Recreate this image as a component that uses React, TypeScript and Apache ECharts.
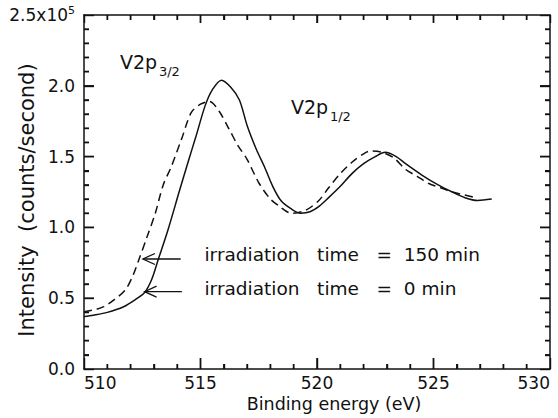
import React, { useEffect, useRef } from "react";
import * as echarts from "echarts";

// Binding energy (eV) and intensity (x10^5 counts/second)
const energy0 = [510.0, 510.4, 511.0, 511.7, 512.2, 512.6, 512.9, 513.2, 513.6, 514.1, 514.5, 514.8, 515.2, 515.5, 515.9, 516.3, 516.67, 517.0, 517.4, 517.74, 518.1, 518.45, 518.9, 519.3, 519.7, 520.1, 520.5, 521.0, 521.5, 522.0, 522.5, 522.93, 523.4, 523.8, 524.5, 525.2, 525.8, 526.35, 526.9, 527.5];
const intensity0 = [0.37, 0.38, 0.40, 0.44, 0.49, 0.54, 0.63, 0.78, 0.98, 1.26, 1.48, 1.64, 1.86, 1.97, 2.04, 1.99, 1.90, 1.72, 1.55, 1.43, 1.29, 1.19, 1.13, 1.10, 1.11, 1.15, 1.21, 1.29, 1.38, 1.45, 1.50, 1.53, 1.50, 1.45, 1.37, 1.30, 1.25, 1.21, 1.19, 1.20];

const energy150 = [510.0, 510.5, 510.85, 511.3, 511.78, 512.1, 512.35, 512.7, 513.06, 513.4, 513.75, 514.2, 514.6, 515.0, 515.38, 515.8, 516.24, 516.6, 517.0, 517.52, 518.0, 518.38, 518.9, 519.5, 520.08, 520.5, 521.0, 521.5, 522.0, 522.3, 522.8, 523.3, 523.8, 524.3, 524.8, 525.3, 525.8, 526.3, 526.8];
const intensity150 = [0.405, 0.42, 0.44, 0.49, 0.56, 0.66, 0.77, 0.93, 1.10, 1.30, 1.43, 1.63, 1.81, 1.87, 1.89, 1.82, 1.69, 1.58, 1.48, 1.31, 1.20, 1.15, 1.10, 1.12, 1.19, 1.28, 1.38, 1.46, 1.52, 1.54, 1.53, 1.49, 1.41, 1.36, 1.31, 1.28, 1.25, 1.23, 1.21];

const xMin = 510;
const xMax = 530;
const xInterval = 5;
const xMinorStep = 1;
const yMin = 0;
const yMax = 2.5;
const yInterval = 0.5;
const yMinorStep = 0.1;

const xTitle = "Binding energy (eV)";
const yTitle = "Intensity  (counts/second)";

// annotations (data coordinates)
const peakLabels = [
  { main: "V2p", sub: "3/2", at: [511.54, 2.1] },
  { main: "V2p", sub: "1/2", at: [518.88, 1.78] },
];
const legendNotes = [
  { text: "irradiation   time   =  150 min", at: [515.17, 0.74], tip: [512.53, 0.777], tailX: 514.15 },
  { text: "irradiation   time   =  0 min", at: [515.17, 0.50], tip: [512.6, 0.546], tailX: 514.2 },
];

const FONT = "DejaVu Sans";
const INK = "#111";

export default function App() {
  const ref = useRef<HTMLDivElement>(null);
  useEffect(() => {
    if (!ref.current) return;
    const chart = echarts.init(ref.current, null, { renderer: "svg" });
    const tickStyle = { color: INK, width: 1.4, opacity: 1 };
    const axisCommon = {
      axisLine: { show: true, onZero: false, lineStyle: { color: INK, width: 1.5 } },
      splitLine: { show: false },
    };
    const ticks = (major: number, minor: number) => ({
      axisTick: { show: true, inside: true, length: major, lineStyle: tickStyle },
      minorTick: { show: true, splitNumber: 5, length: minor, lineStyle: tickStyle },
    });
    const d0 = energy0.map((e, i) => [e, intensity0[i]]);
    const d1 = energy150.map((e, i) => [e, intensity150[i]]);

    // tick positions derived from the axis ranges: [x, y, kind(0=x,1=y), major]
    const isMult = (v: number, step: number) => Math.abs(Math.round(v / step) * step - v) < 1e-6;
    const tickData: number[][] = [];
    const nx = Math.round((xMax - xMin) / xMinorStep);
    for (let i = 1; i < nx; i++) {
      const v = xMin + i * xMinorStep;
      tickData.push([v, yMin, 0, isMult(v - xMin, xInterval) ? 1 : 0]);
    }
    const ny = Math.round((yMax - yMin) / yMinorStep);
    for (let i = 1; i < ny; i++) {
      const v = yMin + i * yMinorStep;
      tickData.push([xMin, v, 1, isMult(v - yMin, yInterval) ? 1 : 0]);
    }

    chart.setOption({
      animation: false,
      grid: { left: 84, right: 8, top: 15, bottom: 49, containLabel: false, outerBoundsMode: "none" },
      xAxis: [
        {
          type: "value", min: xMin, max: xMax, interval: xInterval, position: "bottom",
          ...axisCommon, ...ticks(11, 5),
          axisLabel: { fontSize: 17, color: INK, fontFamily: FONT, margin: 5, alignMinLabel: "left", alignMaxLabel: "right" },
          name: xTitle, nameLocation: "middle", nameGap: 26, nameMoveOverlap: false,
          nameTextStyle: { fontSize: 17.5, color: INK, fontFamily: FONT, padding: [0, 0, 0, 34] },
        },
        {
          type: "value", min: xMin, max: xMax, interval: xInterval, position: "top",
          ...axisCommon, ...ticks(8, 5),
          axisLabel: { show: false },
        },
      ],
      yAxis: [
        {
          type: "value", min: yMin, max: yMax, interval: yInterval, position: "left",
          ...axisCommon, ...ticks(10, 5),
          axisLabel: {
            fontSize: 17, color: INK, fontFamily: FONT, margin: 9,
            formatter: (v: number) => (Math.abs(v - yMax) < 1e-9 ? "{a|" + v.toFixed(1) + "x10}{s|5}" : v.toFixed(1)),
            rich: {
              a: { fontSize: 17, color: INK, fontFamily: FONT },
              s: { fontSize: 11, color: INK, fontFamily: FONT, padding: [0, 0, 9, 0] },
            },
          },
          name: yTitle, nameLocation: "middle", nameGap: 47, nameRotate: 90, nameMoveOverlap: false,
          nameTextStyle: { fontSize: 21, color: INK, fontFamily: FONT, padding: [0, 16, 0, 0] },
        },
        {
          type: "value", min: yMin, max: yMax, interval: yInterval, position: "right",
          ...axisCommon, ...ticks(10, 5),
          axisLabel: { show: false },
        },
      ],
      series: [
        {
          type: "line", name: "0 min", data: d0, smooth: 0.3, showSymbol: false,
          lineStyle: { color: INK, width: 1.5, type: "solid" },
        },
        {
          type: "line", name: "150 min", data: d1, smooth: 0.3, showSymbol: false,
          lineStyle: { color: INK, width: 1.5, type: [8, 5] },
        },
        {
          type: "custom", name: "ticks", data: tickData, clip: false, silent: true, z: 10,
          renderItem: (params: any, api: any) => {
            const kind = api.value(2);
            const major = api.value(3) === 1;
            const st = { stroke: INK, lineWidth: 1.5, fill: "none" };
            if (kind === 0) {
              const v = api.value(0);
              const b = api.coord([v, yMin]);
              const t = api.coord([v, yMax]);
              const lb = major ? 11 : 5;
              const lt = major ? 8 : 5;
              return {
                type: "group",
                children: [
                  { type: "line", shape: { x1: b[0], y1: b[1], x2: b[0], y2: b[1] - lb }, style: st },
                  { type: "line", shape: { x1: t[0], y1: t[1], x2: t[0], y2: t[1] + lt }, style: st },
                ],
              };
            }
            const v = api.value(1);
            const l = api.coord([xMin, v]);
            const r = api.coord([xMax, v]);
            const len = major ? 10 : 5;
            return {
              type: "group",
              children: [
                { type: "line", shape: { x1: l[0], y1: l[1], x2: l[0] + len, y2: l[1] }, style: st },
                { type: "line", shape: { x1: r[0], y1: r[1], x2: r[0] - len, y2: r[1] }, style: st },
              ],
            };
          },
        },
      ],
    });

    const px = (p: number[]) => chart.convertToPixel({ xAxisIndex: 0, yAxisIndex: 0 }, p) as number[];
    const graphics: any[] = [];
    peakLabels.forEach((l) => {
      const p = px(l.at);
      graphics.push({
        type: "text", x: p[0], y: p[1],
        style: { text: l.main, fontSize: 19, fontFamily: FONT, fill: INK, verticalAlign: "bottom", align: "left" },
      });
      graphics.push({
        type: "text", x: p[0] + 39, y: p[1] + 6,
        style: { text: l.sub, fontSize: 13, fontFamily: FONT, fill: INK, verticalAlign: "bottom", align: "left" },
      });
    });
    legendNotes.forEach((n) => {
      const t = px(n.at);
      graphics.push({
        type: "text", x: t[0], y: t[1],
        style: { text: n.text, fontSize: 18.5, fontFamily: FONT, fill: INK, verticalAlign: "bottom", align: "left" },
      });
      const tip = px(n.tip);
      const tail = px([n.tailX, n.tip[1]]);
      graphics.push({
        type: "line", shape: { x1: tail[0], y1: tip[1], x2: tip[0], y2: tip[1] },
        style: { stroke: INK, lineWidth: 1.3 },
      });
      graphics.push({
        type: "polyline",
        shape: { points: [[tip[0] + 12, tip[1] - 5.5], [tip[0], tip[1]], [tip[0] + 12, tip[1] + 5.5]] },
        style: { stroke: INK, lineWidth: 1.3, fill: "none" },
      });
    });
    chart.setOption({ graphic: graphics });

    return () => chart.dispose();
  }, []);
  return <div ref={ref} style={{ position: "fixed", left: 0, top: 0, width: 558, height: 418, background: "#fff" }} />;
}
